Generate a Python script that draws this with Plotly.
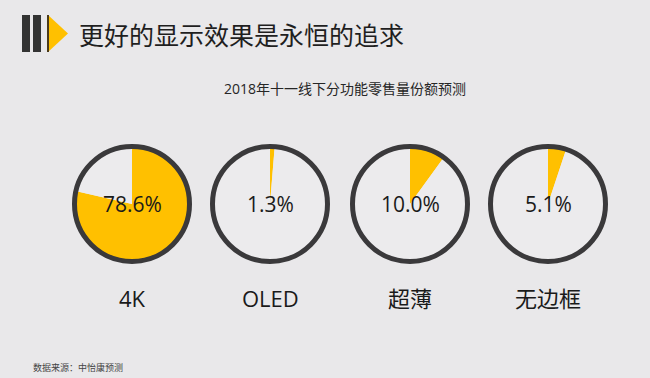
import plotly.graph_objects as go

W, H = 650, 378

categories = ["4K", "OLED", "超薄", "无边框"]
shares = [78.6, 1.3, 10.0, 5.1]
share_labels = ["78.6%", "1.3%", "10.0%", "5.1%"]
title_text = "更好的显示效果是永恒的追求"
subtitle_text = "2018年十一线下分功能零售量份额预测"
source_text = "数据来源：中怡康预测"

BG = "#e9e8ea"
YELLOW = "#ffc000"
RING = "#3a393b"
FONT = "Open Sans, Noto Sans CJK SC, sans-serif"
CJK = "Noto Sans CJK SC, sans-serif"

centers_x = [132, 270, 410, 548]
cy = 204
R = 58

def px(x):
    return x / W

def py(y):
    return 1 - y / H

fig = go.Figure()
shapes = []
annotations = []

for cat, v, lab, cx in zip(categories, shares, share_labels, centers_x):
    fig.add_trace(go.Pie(
        values=[v, 100 - v],
        labels=[cat, "其他"],
        sort=False,
        direction="clockwise",
        rotation=0,
        textinfo="none",
        hoverinfo="skip",
        marker=dict(colors=[YELLOW, "#ecebed"], line=dict(width=0)),
        domain=dict(x=[px(cx - R), px(cx + R)], y=[py(cy + R), py(cy - R)]),
        showlegend=False,
    ))
    shapes.append(dict(type="circle", xref="paper", yref="paper",
                       x0=px(cx - 57.5), x1=px(cx + 57.5),
                       y0=py(cy + 57.5), y1=py(cy - 57.5),
                       line=dict(color=RING, width=5)))
    annotations.append(dict(text=lab, x=px(cx), y=py(cy), xref="paper", yref="paper",
                            showarrow=False, xanchor="center", yanchor="middle",
                            font=dict(family=FONT, size=21, color="#1a1a1a")))
    annotations.append(dict(text=cat, x=px(cx), y=py(298), xref="paper", yref="paper",
                            showarrow=False, xanchor="center", yanchor="middle",
                            font=dict(family=FONT, size=22, color="#1a1a1a")))

# title icon
shapes.append(dict(type="rect", xref="paper", yref="paper", x0=px(22), x1=px(30),
                   y0=py(52), y1=py(15), fillcolor="#333333", line=dict(width=0)))
shapes.append(dict(type="rect", xref="paper", yref="paper", x0=px(33), x1=px(41),
                   y0=py(52), y1=py(15), fillcolor="#333333", line=dict(width=0)))
shapes.append(dict(type="path", xref="paper", yref="paper",
                   path=f"M {px(48)} {py(15)} L {px(68)} {py(33.5)} L {px(48)} {py(52)} Z",
                   fillcolor=YELLOW, line=dict(width=0)))
shapes.append(dict(type="rect", xref="paper", yref="paper", x0=px(47), x1=px(49),
                   y0=py(52), y1=py(15), fillcolor="#4a3a1a", line=dict(width=0)))

annotations.append(dict(text=title_text, x=px(77), y=py(34), xref="paper", yref="paper",
                        showarrow=False, xanchor="left", yanchor="middle",
                        font=dict(family=CJK, size=25, color="#1f1f1f")))
annotations.append(dict(text=subtitle_text, x=px(345), y=py(88), xref="paper", yref="paper",
                        showarrow=False, xanchor="center", yanchor="middle",
                        font=dict(family=FONT, size=14, color="#262626")))
annotations.append(dict(text=source_text, x=px(31), y=py(367), xref="paper", yref="paper",
                        showarrow=False, xanchor="left", yanchor="middle",
                        font=dict(family=CJK, size=9, color="#444444")))

fig.update_layout(
    width=W, height=H,
    margin=dict(l=0, r=0, t=0, b=0),
    paper_bgcolor=BG, plot_bgcolor=BG,
    shapes=shapes, annotations=annotations,
    showlegend=False,
)

fig.write_html("out.html", config={"displayModeBar": False},
               post_script="document.body.style.margin='0';document.body.style.overflow='hidden';")
